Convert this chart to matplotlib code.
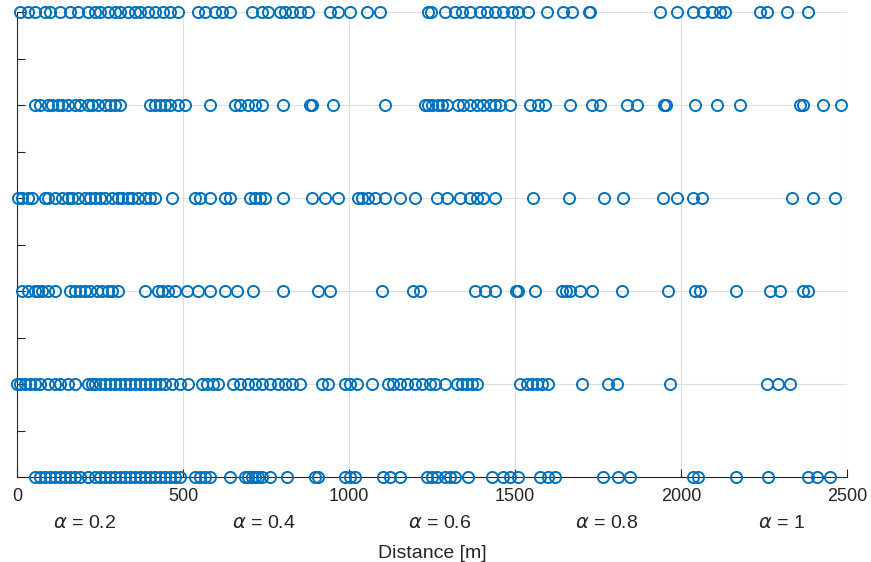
import numpy as np
import matplotlib.pyplot as plt
from matplotlib.ticker import MultipleLocator

# distances [m] (top row first)
row1 = [9, 33, 54, 84, 99, 130, 160, 184, 214, 235, 250, 274, 295, 310, 334, 355, 370, 395, 416, 440,
        461, 485, 545, 566, 596, 617, 642, 708, 738, 756, 792, 807, 828, 852, 877, 943, 967, 1003, 1054,
        1093, 1238, 1247, 1289, 1319, 1340, 1364, 1395, 1416, 1440, 1464, 1491, 1509, 1539, 1596, 1644,
        1672, 1723, 1726, 1937, 1988, 2036, 2066, 2093, 2117, 2132, 2238, 2259, 2319, 2383]
row2 = [54, 69, 93, 105, 123, 136, 154, 175, 190, 214, 226, 244, 265, 280, 295, 310, 401, 416, 431, 446,
        461, 485, 506, 581, 657, 672, 696, 717, 738, 801, 883, 889, 952, 1108, 1229, 1238, 1250, 1268,
        1280, 1295, 1328, 1343, 1364, 1386, 1404, 1425, 1440, 1455, 1485, 1545, 1569, 1590, 1666, 1732,
        1756, 1837, 1867, 1949, 1955, 2042, 2108, 2178, 2358, 2367, 2428, 2482]
row3 = [3, 15, 33, 45, 84, 93, 114, 136, 154, 166, 184, 205, 220, 235, 250, 265, 286, 304, 316, 334, 346,
        364, 386, 401, 416, 467, 536, 551, 581, 627, 642, 702, 717, 732, 747, 801, 889, 928, 967, 1027,
        1039, 1057, 1078, 1108, 1154, 1199, 1265, 1295, 1334, 1364, 1386, 1404, 1440, 1554, 1663, 1768,
        1825, 1946, 1988, 2036, 2063, 2334, 2398, 2464]
row4 = [15, 33, 54, 63, 75, 93, 114, 160, 175, 190, 205, 220, 241, 256, 274, 286, 304, 386, 425, 437, 455,
        476, 512, 545, 581, 627, 663, 711, 801, 907, 943, 1099, 1193, 1214, 1380, 1410, 1440, 1503, 1509,
        1560, 1642, 1654, 1666, 1696, 1732, 1822, 1961, 2042, 2057, 2166, 2268, 2298, 2367, 2383]
row5 = [0, 9, 24, 39, 54, 69, 93, 114, 130, 154, 175, 214, 226, 235, 250, 265, 280, 295, 310, 325, 340,
        355, 370, 386, 401, 416, 431, 446, 467, 491, 515, 557, 572, 590, 605, 651, 672, 696, 717, 738, 762,
        786, 807, 828, 852, 919, 937, 988, 1003, 1024, 1069, 1117, 1133, 1154, 1175, 1199, 1220, 1244,
        1259, 1289, 1325, 1340, 1355, 1370, 1386, 1515, 1536, 1551, 1566, 1581, 1599, 1702, 1780, 1807,
        1967, 2259, 2292, 2328]
row6 = [54, 69, 84, 99, 114, 130, 145, 160, 175, 190, 214, 235, 250, 265, 280, 295, 310, 325, 340, 355,
        370, 386, 401, 416, 431, 446, 461, 476, 491, 536, 551, 566, 581, 642, 687, 696, 708, 717, 726, 738,
        762, 813, 898, 907, 988, 1003, 1018, 1102, 1124, 1154, 1235, 1250, 1265, 1289, 1304, 1319, 1358,
        1431, 1464, 1485, 1509, 1575, 1599, 1620, 1765, 1810, 1846, 2036, 2051, 2166, 2262, 2383, 2410,
        2449]
rows = [row1, row2, row3, row4, row5, row6]
row_levels = [5, 4, 3, 2, 1, 0]

alpha_labels = ['$\\alpha$ = 0.2', '$\\alpha$ = 0.4', '$\\alpha$ = 0.6', '$\\alpha$ = 0.8', '$\\alpha$ = 1']
alpha_pos = [205, 745, 1272, 1775, 2302]

plt.rcParams['font.family'] = ['Liberation Sans', 'DejaVu Sans']
plt.rcParams['mathtext.fontset'] = 'dejavusans'

fig = plt.figure(figsize=(8.71, 5.62), dpi=100)
ax = fig.add_axes([0.0195, 0.1512, 0.9529, 0.8274])

blue = '#0072BD'
for r, lev in zip(rows, row_levels):
    ax.plot(r, np.full(len(r), lev), 'o', mfc='none', mec=blue, ms=8, mew=1.4,
            clip_on=False, zorder=3)

ax.set_xlim(0, 2500)
ax.set_ylim(0, 5)
ax.xaxis.set_major_locator(MultipleLocator(500))
ax.yaxis.set_major_locator(MultipleLocator(1))
ax.yaxis.set_minor_locator(MultipleLocator(0.5))
ax.set_yticklabels([])
ax.tick_params(axis='y', which='both', direction='in', length=6, width=0.8, colors='#262626', labelleft=False)
ax.tick_params(axis='x', direction='in', length=6, width=0.8, colors='#262626', labelsize=13, pad=8)
ax.grid(True, which='major', color='#dedede', linewidth=0.8)
ax.set_axisbelow(True)
for s in ['top', 'right']:
    ax.spines[s].set_visible(False)
for s in ['left', 'bottom']:
    ax.spines[s].set_color('#262626')
    ax.spines[s].set_linewidth(0.8)

for lab, xp in zip(alpha_labels, alpha_pos):
    ax.text(xp, -0.5, lab, ha='center', va='center', fontsize=14, color='#262626')
ax.set_xlabel('Distance [m]', fontsize=14, color='#262626', labelpad=29)

fig.savefig('out.png', dpi=100)
